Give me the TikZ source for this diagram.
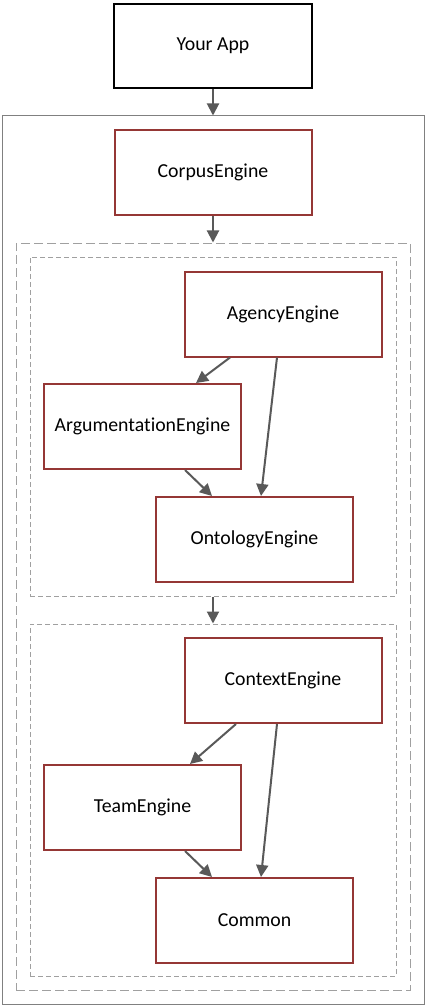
\documentclass[tikz,border=0pt]{standalone}
\usepackage{fontspec}
\setmainfont[Ligatures={NoCommon}]{Carlito}
\usetikzlibrary{arrows.meta}
\definecolor{boxred}{HTML}{953735}
\definecolor{arrowgray}{HTML}{595959}
\definecolor{framegray}{HTML}{808080}
\definecolor{dashgray}{HTML}{A0A0A0}
\begin{document}
\begin{tikzpicture}[x=1pt,y=-1pt,
  appbox/.style={draw=black,line width=2pt,minimum width=198pt,minimum height=84pt,inner sep=0pt,font=\fontsize{19.8}{24}\selectfont},
  engbox/.style={draw=boxred,line width=2pt,fill=white,minimum width=197pt,minimum height=85pt,inner sep=0pt,font=\fontsize{19.8}{24}\selectfont},
  conn/.style={draw=arrowgray,line width=2pt,-{Triangle[length=12pt,width=12pt]}},
  outerframe/.style={draw=framegray,line width=1pt},
  dashframe/.style={draw=dashgray,line width=1pt,dash pattern=on 9pt off 4pt},
  innerdash/.style={draw=dashgray,line width=1pt,dash pattern=on 5pt off 3pt}]
\useasboundingbox (0,0) rectangle (426,1008);
% frames
\node[outerframe,minimum width=422pt,minimum height=888pt,inner sep=0pt] (outer) at (213,560) {};
\node[dashframe,minimum width=394pt,minimum height=747pt,inner sep=0pt] (dash) at (213,616.5) {};
\node[innerdash,minimum width=366pt,minimum height=339pt,inner sep=0pt] (grpA) at (213,426.5) {};
\node[innerdash,minimum width=366pt,minimum height=352pt,inner sep=0pt] (grpB) at (213,800) {};
% boxes
\node[appbox] (app) at (213,46) {Your App};
\node[engbox] (corpus) at (213,172.5) {CorpusEngine};
\node[engbox] (agency) at (283,314) {AgencyEngine};
\node[engbox] (arg) at (142.5,426.5) {ArgumentationEngine};
\node[engbox] (onto) at (254.5,539.5) {OntologyEngine};
\node[engbox] (context) at (283,680.5) {ContextEngine};
\node[engbox] (team) at (142.5,807.5) {TeamEngine};
\node[engbox] (common) at (254.5,920.5) {Common};
% connectors
\draw[conn] (app.south) -- (outer.north);
\draw[conn] (corpus.south) -- (dash.north);
\draw[conn] ([xshift=-53pt]agency.south) -- ([xshift=53.5pt]arg.north);
\draw[conn] ([xshift=-6pt]agency.south) -- ([xshift=6.5pt]onto.north);
\draw[conn] ([xshift=42.5pt]arg.south) -- ([xshift=-42.5pt]onto.north);
\draw[conn] (grpA.south) -- (grpB.north);
\draw[conn] ([xshift=-47pt]context.south) -- ([xshift=47.5pt]team.north);
\draw[conn] ([xshift=-6pt]context.south) -- ([xshift=6.5pt]common.north);
\draw[conn] ([xshift=42.5pt]team.south) -- ([xshift=-42.5pt]common.north);
\end{tikzpicture}
\end{document}
